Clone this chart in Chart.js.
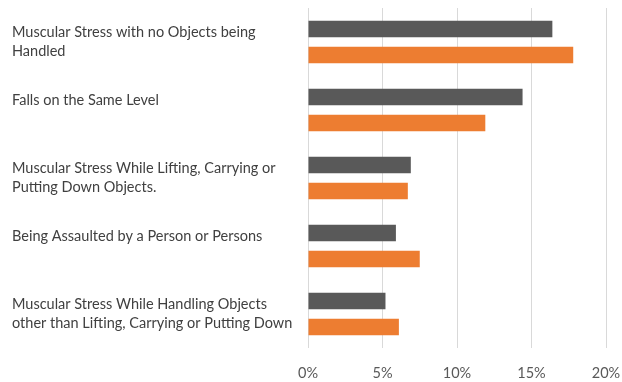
<!DOCTYPE html>
<html>
<head>
<meta charset="utf-8">
<script src="https://cdn.jsdelivr.net/npm/chart.js@4/dist/chart.umd.min.js"></script>
<style>
  html, body { margin: 0; padding: 0; background: #fff; }
  #wrap { width: 622px; height: 382px; }
</style>
</head>
<body>
<div id="wrap"><canvas id="chart"></canvas></div>
<script>
// categories (multi-line as wrapped in the picture)
const categories = [
  ['Muscular Stress with no Objects being', 'Handled'],
  ['Falls on the Same Level', ''],
  ['Muscular Stress While Lifting, Carrying or', 'Putting Down Objects.'],
  ['Being Assaulted by a Person or Persons', ''],
  ['Muscular Stress While Handling Objects', 'other than Lifting, Carrying or Putting Down']
];
// series values (%)
const seriesGray = [16.4, 14.4, 6.9, 5.9, 5.2];
const seriesOrange = [17.8, 11.9, 6.7, 7.5, 6.1];
const xTicks = [0, 5, 10, 15, 20];

const FONT = 'Lato, "Open Sans", sans-serif';

// drop the extra room Chart.js reserves for overhanging labels
function noPad(axis) {
  axis.paddingLeft = 0;
  axis.paddingRight = 0;
  axis.paddingTop = 0;
  axis.paddingBottom = 0;
}

new Chart(document.getElementById('chart'), {
  type: 'bar',
  data: {
    labels: categories,
    datasets: [
      { label: 'Series 1', data: seriesGray, backgroundColor: '#595959' },
      { label: 'Series 2', data: seriesOrange, backgroundColor: '#ED7D31' }
    ]
  },
  options: {
    indexAxis: 'y',
    responsive: true,
    maintainAspectRatio: false,
    animation: false,
    categoryPercentage: 0.76,
    barPercentage: 0.64,
    layout: { padding: { left: 12, right: 16, top: 8, bottom: 0 } },
    plugins: { legend: { display: false }, tooltip: { enabled: false } },
    scales: {
      x: {
        min: 0,
        max: 20,
        afterBuildTicks: axis => { axis.ticks = xTicks.map(v => ({ value: v })); },
        afterFit: axis => { axis.height = 34; noPad(axis); },
        border: { display: false },
        grid: { color: '#d9d9d9', drawTicks: false },
        ticks: {
          padding: 17,
          color: '#595959',
          font: { family: FONT, size: 14.5 },
          callback: v => v + '%'
        }
      },
      y: {
        afterFit: axis => { axis.width = 296; noPad(axis); },
        border: { display: false },
        grid: { display: false, drawTicks: false },
        ticks: {
          crossAlign: 'far',
          color: '#404040',
          font: { family: FONT, size: 14.5, lineHeight: 1.3 }
        }
      }
    }
  }
});
</script>
</body>
</html>
